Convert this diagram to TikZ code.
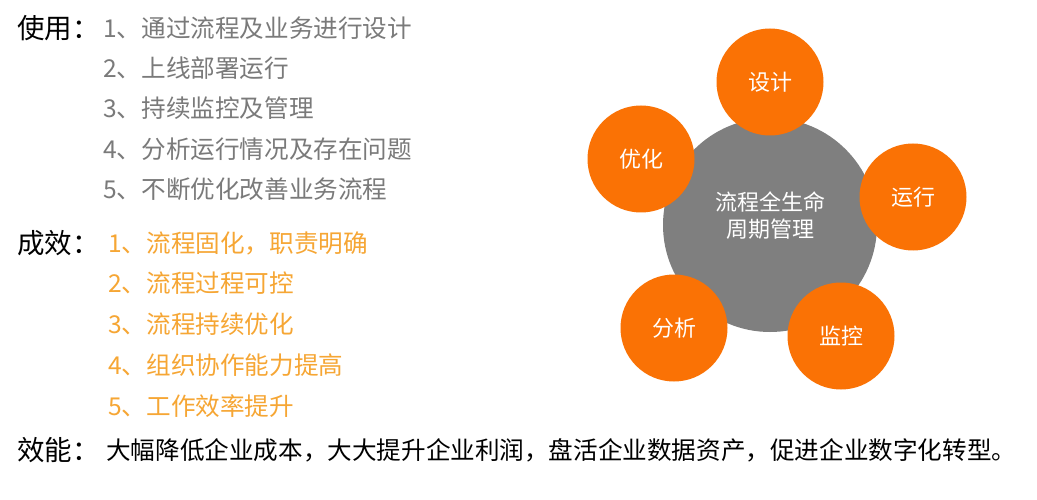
\documentclass[tikz,border=0pt]{standalone}
\usepackage{fontspec}
\setmainfont{Noto Sans CJK SC}
\definecolor{ctrgray}{HTML}{7F7F7F}
\definecolor{bigorange}{HTML}{FA7205}
\definecolor{itemgray}{HTML}{7A7A7A}
\definecolor{itemorange}{HTML}{F6A634}
\tikzset{
  hdr/.style={anchor=west, inner sep=0pt, font=\fontsize{27.5}{30}\selectfont, text=black},
  grayitem/.style={anchor=west, inner sep=0pt, font=\fontsize{24.6}{28}\selectfont, text=itemgray},
  orgitem/.style={anchor=west, inner sep=0pt, font=\fontsize{24.6}{28}\selectfont, text=itemorange},
  bodytxt/.style={anchor=west, inner sep=0pt, font=\fontsize{24.6}{28}\selectfont, text=black},
  hub/.style={circle, fill=ctrgray, minimum size=214pt, inner sep=0pt},
  hubtext/.style={inner sep=0pt, text=white, align=center, font=\fontsize{22}{27}\selectfont},
  petal/.style={circle, fill=bigorange, minimum size=107pt, inner sep=0pt, text=white, font=\fontsize{22}{25}\selectfont}
}
\begin{document}
\begin{tikzpicture}[x=1pt,y=-1pt]
\useasboundingbox[fill=white] (0,0) rectangle (1037,500);
% left text
\node[hdr] (h1) at (17,28) {使用：};
\node[grayitem] (u1) at (103,28) {1、通过流程及业务进行设计};
\node[grayitem] (u2) at (103,68) {2、上线部署运行};
\node[grayitem] (u3) at (103,108) {3、持续监控及管理};
\node[grayitem] (u4) at (103,149) {4、分析运行情况及存在问题};
\node[grayitem] (u5) at (103,189) {5、不断优化改善业务流程};
\node[hdr] (h2) at (17,243) {成效：};
\node[orgitem] (e1) at (108,243) {1、流程固化，职责明确};
\node[orgitem] (e2) at (108,283) {2、流程过程可控};
\node[orgitem] (e3) at (108,324) {3、流程持续优化};
\node[orgitem] (e4) at (108,365) {4、组织协作能力提高};
\node[orgitem] (e5) at (108,406) {5、工作效率提升};
\node[hdr] (h3) at (17,450) {效能：};
\node[bodytxt] (b1) at (106,450) {大幅降低企业成本，大大提升企业利润，盘活企业数据资产，促进企业数字化转型。};
% diagram
\node[hub] (hub) at (770,225) {};
\node[hubtext] (hubt) at (770,216) {流程全生命\\周期管理};
\node[petal] (p1) at (770,82) {设计};
\node[petal] (p2) at (913,197) {运行};
\node[petal] (p3) at (841,336) {监控};
\node[petal] (p4) at (674,328) {分析};
\node[petal] (p5) at (641,159) {优化};
\end{tikzpicture}
\end{document}
